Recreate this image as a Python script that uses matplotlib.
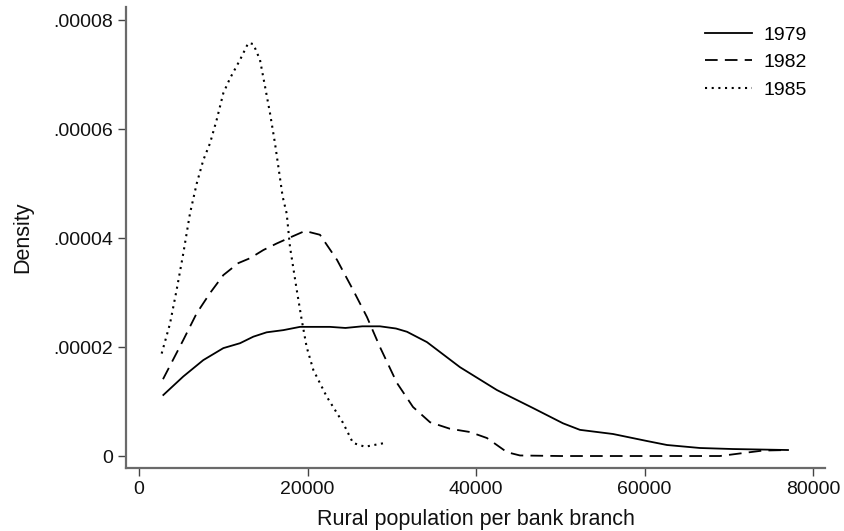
import matplotlib
matplotlib.use("Agg")
import matplotlib.pyplot as plt

plt.rcParams['font.family'] = ['Liberation Sans', 'DejaVu Sans']

x1979 = [2890, 5260, 7630, 10010, 11990, 13570, 15150, 17130, 19110, 22670, 24500, 26500, 28600,
         30500, 31810, 34180, 38100, 42490, 46770, 50330, 52340, 56260, 60300, 62670, 66590, 70500, 77030]
y1979 = [1.12e-5, 1.46e-5, 1.76e-5, 1.98e-5, 2.07e-5, 2.19e-5, 2.27e-5, 2.31e-5, 2.37e-5, 2.37e-5, 2.35e-5, 2.38e-5, 2.38e-5,
         2.34e-5, 2.28e-5, 2.09e-5, 1.63e-5, 1.21e-5, 8.8e-6, 6.0e-6, 4.8e-6, 4.04e-6, 2.75e-6, 2.02e-6, 1.47e-6, 1.28e-6, 1.1e-6]

x1982 = [2850, 5260, 6850, 8430, 10010, 11790, 13180, 14760, 16340, 17920, 19700, 21480, 23500, 25400,
         27060, 28600, 30620, 32520, 34540, 36910, 39290, 41300, 43680, 45220, 50000, 60000, 68960, 72000, 74060, 77030]
y1982 = [1.41e-5, 2.13e-5, 2.62e-5, 2.99e-5, 3.32e-5, 3.54e-5, 3.63e-5, 3.78e-5, 3.90e-5, 4.01e-5, 4.13e-5, 4.06e-5, 3.6e-5, 3.05e-5,
         2.55e-5, 2.0e-5, 1.34e-5, 9.0e-6, 6.2e-6, 5.0e-6, 4.4e-6, 3.3e-6, 7e-7, 1e-7, 0.0, 0.0, 0.0, 6e-7, 1.0e-6, 1.1e-6]

x1985 = [2690, 3680, 4470, 5260, 6050, 6850, 7630, 8430, 9220, 10010, 10800, 11990, 12970, 13570, 14360,
         14960, 15550, 16140, 16540, 17050, 17530, 17920, 18720, 19310, 19900, 20690, 22280, 24210, 25400, 26820, 29200]
y1985 = [1.88e-5, 2.43e-5, 3.05e-5, 3.72e-5, 4.45e-5, 5.0e-5, 5.43e-5, 5.74e-5, 6.17e-5, 6.66e-5, 6.93e-5, 7.27e-5, 7.58e-5, 7.56e-5, 7.27e-5,
         6.78e-5, 6.29e-5, 5.74e-5, 5.31e-5, 4.76e-5, 4.45e-5, 3.84e-5, 3.05e-5, 2.5e-5, 2.0e-5, 1.58e-5, 1.09e-5, 6.1e-6, 2.4e-6, 1.7e-6, 2.4e-6]

series_labels = ['1979', '1982', '1985']
xticks = [0, 20000, 40000, 60000, 80000]
xticklabels = ['0', '20000', '40000', '60000', '80000']
yticks = [0, 0.00002, 0.00004, 0.00006, 0.00008]
yticklabels = ['0', '.00002', '.00004', '.00006', '.00008']

fig = plt.figure(figsize=(8.44, 5.31), dpi=100)
ax = fig.add_axes([126/844, 63/531, (825-126)/844, (468-7)/531])

lw = 1.3
ax.plot(x1979, y1979, color='black', lw=lw, linestyle='-', label=series_labels[0])
ax.plot(x1982, y1982, color='black', lw=lw, linestyle=(0, (7, 4)), label=series_labels[1])
ax.plot(x1985, y1985, color='black', lw=1.5, linestyle=(0, (1, 2.2)), label=series_labels[2])

ax.set_xlim(-1543, 81424)
ax.set_ylim(-2.2e-6, 8.24e-5)
ax.set_xticks(xticks)
ax.set_xticklabels(xticklabels)
ax.set_yticks(yticks)
ax.set_yticklabels(yticklabels)

for s in ['top', 'right']:
    ax.spines[s].set_visible(False)
for s in ['left', 'bottom']:
    ax.spines[s].set_color('#6a6a6a')
    ax.spines[s].set_linewidth(1.6)
ax.tick_params(axis='both', direction='out', length=5.5, width=1.0, color='#444444',
               labelsize=14, labelcolor='#111111', pad=3.5)

ax.set_xlabel('Rural population per bank branch', fontsize=15.5, color='#111111')
ax.set_ylabel('Density', fontsize=15.5, color='#111111')
ax.xaxis.set_label_coords(0.5, -0.089)
ax.yaxis.set_label_coords(-0.132, 0.5)

leg = ax.legend(loc='upper right', bbox_to_anchor=(0.999, 0.996), frameon=False, fontsize=14,
                handlelength=2.4, handletextpad=0.6, labelspacing=0.5)

fig.savefig('out.png', dpi=100)
